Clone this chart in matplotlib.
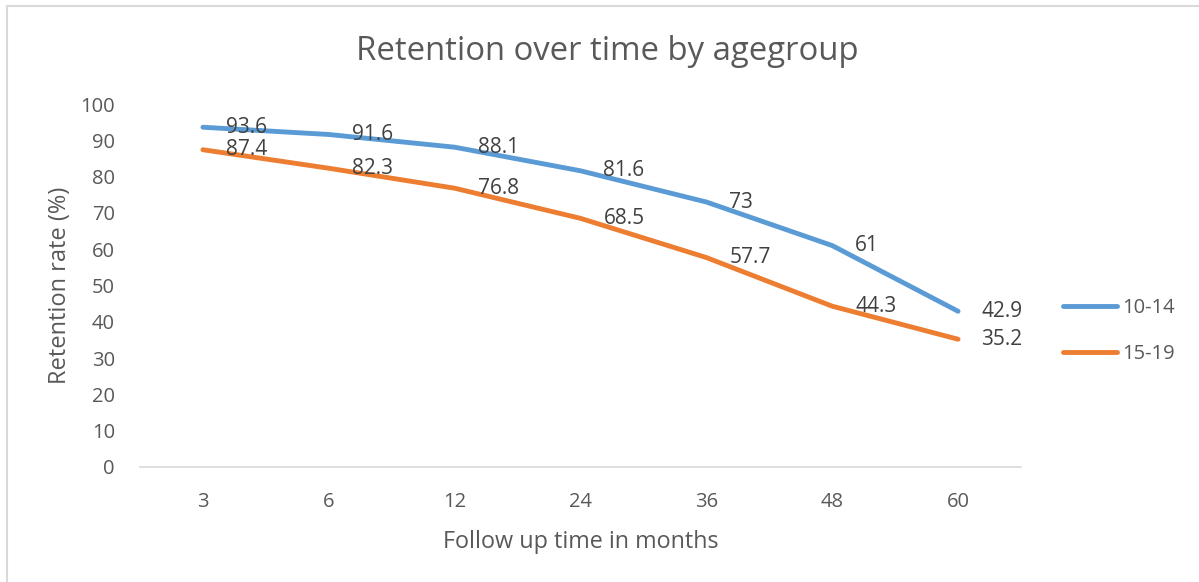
import matplotlib.pyplot as plt
from matplotlib.patches import Rectangle

plt.rcParams["font.family"] = ["Open Sans", "DejaVu Sans"]

months = ["3", "6", "12", "24", "36", "48", "60"]
age_10_14 = [93.6, 91.6, 88.1, 81.6, 73, 61, 42.9]
age_15_19 = [87.4, 82.3, 76.8, 68.5, 57.7, 44.3, 35.2]
labels_10_14 = ["93.6", "91.6", "88.1", "81.6", "73", "61", "42.9"]
labels_15_19 = ["87.4", "82.3", "76.8", "68.5", "57.7", "44.3", "35.2"]

TEXT = "#595959"
GRID = "#D9D9D9"
BLUE = "#5B9BD5"
ORANGE = "#ED7D31"

W, H = 1199, 582
fig = plt.figure(figsize=(W / 100, H / 100), dpi=100)
fig.patch.set_facecolor("white")

# chart frame (only top and left edges visible in the crop)
fig.patches.append(Rectangle((7 / W, -0.05), 1.1, 1 - 6 / H + 0.05, transform=fig.transFigure,
                             fill=False, edgecolor=GRID, linewidth=1.5))

ax = fig.add_axes([140 / W, 1 - 467 / H, 881 / W, 363 / H])
x = list(range(len(months)))
ax.plot(x, age_10_14, color=BLUE, linewidth=3.5, solid_capstyle="round", label="10-14")
ax.plot(x, age_15_19, color=ORANGE, linewidth=3.5, solid_capstyle="round", label="15-19")

for xi, yi, s in zip(x, age_10_14, labels_10_14):
    ax.annotate(s, (xi, yi), xytext=(23, 0), textcoords="offset pixels",
                ha="left", va="center", fontsize=15, color="#404040")
for xi, yi, s in zip(x, age_15_19, labels_15_19):
    ax.annotate(s, (xi, yi), xytext=(23, 0), textcoords="offset pixels",
                ha="left", va="center", fontsize=15, color="#404040")

ax.set_xlim(-0.5, len(months) - 0.5)
ax.set_ylim(0, 100)
ax.set_yticks(range(0, 101, 10))
ax.set_xticks(x)
ax.set_xticklabels(months)
for side in ["top", "right", "left"]:
    ax.spines[side].set_visible(False)
ax.spines["bottom"].set_color(GRID)
ax.spines["bottom"].set_linewidth(1.2)
ax.tick_params(axis="both", length=0, labelsize=14.5, colors=TEXT)
ax.tick_params(axis="y", pad=18)
ax.tick_params(axis="x", pad=18)

ax.set_xlabel("Follow up time in months", fontsize=16.8, color=TEXT, labelpad=13)
ax.set_ylabel("Retention rate (%)", fontsize=17, color=TEXT, labelpad=6)

fig.text(607 / W, 1 - 52 / H, "Retention over time by agegroup", ha="center", va="center",
         fontsize=23.7, color=TEXT)

ax.legend(loc="center left", bbox_to_anchor=(1063 / W, 1 - 331 / H), bbox_transform=fig.transFigure,
          frameon=False, fontsize=14.5, labelcolor=TEXT, borderaxespad=0, borderpad=0,
          handlelength=2.7, handletextpad=0.25, labelspacing=1.25)

fig.savefig("out.png", dpi=100)
